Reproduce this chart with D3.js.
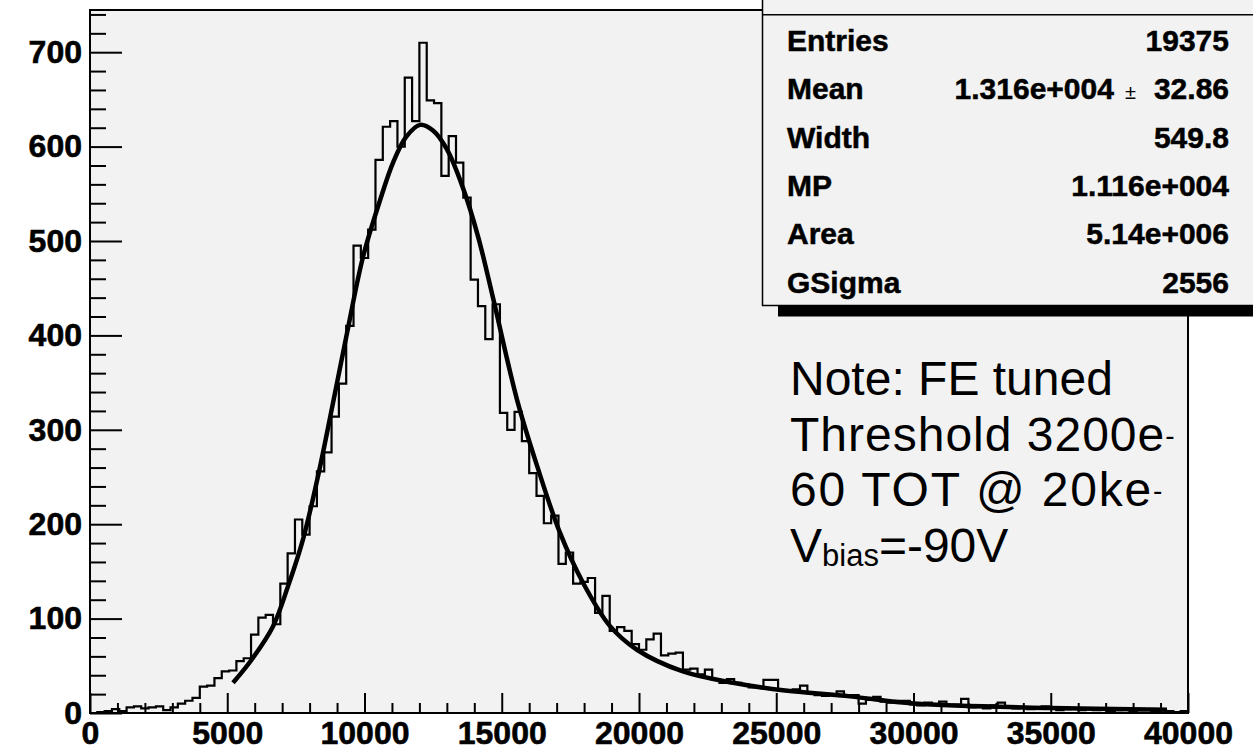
<!DOCTYPE html>
<meta charset="utf-8" />
<style>
  body { margin: 0; background: #fff; }
  text { font-family: "Liberation Sans", Arial, Helvetica, sans-serif; }
</style>
<body>
<div id="chart"></div>
<script src="https://d3js.org/d3.v7.min.js"></script>
<script>
// histogram contents: 150 bins between 0 and 40000
var binCounts = [
  0, 1, 2, 4, 2, 6, 7, 5, 6, 7,
  3, 6, 10, 13, 16, 28, 29, 37, 44, 45,
  55, 58, 83, 101, 104, 94, 137, 169, 205, 189,
  219, 256, 276, 314, 349, 410, 495, 482, 512, 586,
  621, 627, 600, 673, 627, 710, 649, 646, 569, 611,
  583, 546, 459, 431, 396, 433, 318, 300, 319, 288,
  254, 230, 201, 209, 158, 170, 137, 139, 143, 106,
  124, 87, 91, 87, 73, 67, 78, 84, 61, 63,
  64, 46, 47, 41, 46, 35, 32, 36, 32, 30,
  27, 27, 35, 35, 24, 24, 25, 29, 21, 19,
  18, 20, 23, 19, 19, 10, 14, 17, 12, 11,
  13, 13, 9, 8, 11, 9, 12, 8, 9, 15,
  6, 7, 5, 8, 11, 6, 5, 6, 4, 5,
  7, 6, 3, 4, 5, 3, 4, 3, 5, 2,
  3, 4, 2, 3, 4, 2, 3, 2, 1, 2
];
var xRange = [0, 40000];
var yMax = 744.7;

// fit curve (Landau x Gauss)
var fitX = [5210, 5900, 6670, 7210, 7760, 8270, 8630, 9360, 9945, 10565,
  11040, 11510, 12020, 12495, 13005, 13590, 14135, 14680, 15555, 16285,
  17120, 17960, 18945, 19925, 21600, 23425, 25245, 27690, 30020, 34975, 39235];
var fitY = [32, 57, 92, 134, 184, 246, 296, 402, 483, 543,
  583, 610, 623, 617, 597, 556, 505, 440, 332, 262,
  191, 138, 92, 67, 44, 32, 24, 17.6, 10, 5.3, 3.5];

var xMajor = [0, 5000, 10000, 15000, 20000, 25000, 30000, 35000, 40000];
var yMajor = [0, 100, 200, 300, 400, 500, 600, 700];

var statLabels = ["Entries", "Mean", "Width", "MP", "Area", "GSigma"];
var statValues = ["19375", "1.316e+004|32.86", "549.8", "1.116e+004", "5.14e+006", "2556"];

var noteLines = [
  { text: "Note: FE tuned" },
  { text: "Threshold 3200e", sup: "-" },
  { text: "60 TOT @ 20ke", sup: "-" },
  { pre: "V", sub: "bias", text: "=-90V" }
];

var width = 1253, height = 751;
var frame = { left: 90, right: 1188, top: 10, bottom: 713 };

var svg = d3.select("#chart").append("svg")
  .attr("width", width)
  .attr("height", height);

var x = d3.scaleLinear().domain(xRange).range([frame.left, frame.right]);
var y = d3.scaleLinear().domain([0, yMax]).range([frame.bottom, frame.top]);

// pad background
svg.append("rect")
  .attr("x", frame.left).attr("y", frame.top)
  .attr("width", frame.right - frame.left)
  .attr("height", frame.bottom - frame.top)
  .attr("fill", "#f2f2f2");

svg.append("defs").append("clipPath").attr("id", "clip")
  .append("rect")
  .attr("x", frame.left).attr("y", frame.top)
  .attr("width", frame.right - frame.left)
  .attr("height", frame.bottom - frame.top);

// histogram outline
var binW = (xRange[1] - xRange[0]) / binCounts.length;
var steps = binCounts.map(function(c, i) { return [xRange[0] + i * binW, c]; });
steps.push([xRange[1], binCounts[binCounts.length - 1]]);

svg.append("path")
  .datum(steps)
  .attr("clip-path", "url(#clip)")
  .attr("fill", "none")
  .attr("stroke", "#000")
  .attr("stroke-width", 2.2)
  .attr("d", d3.line()
    .curve(d3.curveStepAfter)
    .x(function(d) { return x(d[0]); })
    .y(function(d) { return y(d[1]); }));

// fit function
svg.append("path")
  .datum(d3.zip(fitX, fitY))
  .attr("clip-path", "url(#clip)")
  .attr("fill", "none")
  .attr("stroke", "#000")
  .attr("stroke-width", 4.5)
  .attr("d", d3.line()
    .curve(d3.curveCatmullRom.alpha(0.5))
    .x(function(d) { return x(d[0]); })
    .y(function(d) { return y(d[1]); }));

// axes (ROOT style: ticks point inside the frame)
var xMinor = d3.range(0, xRange[1] + 1, 1000).filter(function(v) { return v % 5000 !== 0; });
var yMinor = d3.range(0, yMax, 20).filter(function(v) { return v % 100 !== 0; });

function styleAxis(g) {
  g.select(".domain").remove();
  g.selectAll("line").attr("stroke-width", 2);
  g.attr("font-family", "'Liberation Sans', Arial, sans-serif")
    .attr("font-size", 32)
    .attr("font-weight", "bold");
  g.selectAll("text").attr("stroke", "#000").attr("stroke-width", 0.6);
}

svg.append("g")
  .attr("transform", "translate(0," + frame.bottom + ")")
  .call(d3.axisBottom(x).tickValues(xMinor).tickSizeInner(-10).tickSizeOuter(0).tickFormat(""))
  .call(styleAxis);
svg.append("g")
  .attr("transform", "translate(0," + frame.bottom + ")")
  .call(d3.axisBottom(x).tickValues(xMajor).tickSizeInner(-20).tickSizeOuter(0)
    .tickPadding(8).tickFormat(d3.format("d")))
  .call(styleAxis);

svg.append("g")
  .attr("transform", "translate(" + frame.left + ",0)")
  .call(d3.axisLeft(y).tickValues(yMinor).tickSizeInner(-16).tickSizeOuter(0).tickFormat(""))
  .call(styleAxis);
svg.append("g")
  .attr("transform", "translate(" + frame.left + ",0)")
  .call(d3.axisLeft(y).tickValues(yMajor).tickSizeInner(-32).tickSizeOuter(0)
    .tickPadding(8).tickFormat(d3.format("d")))
  .call(styleAxis);

// frame
svg.append("rect")
  .attr("x", frame.left).attr("y", frame.top)
  .attr("width", frame.right - frame.left)
  .attr("height", frame.bottom - frame.top)
  .attr("fill", "none")
  .attr("stroke", "#000")
  .attr("stroke-width", 2);

// stats box with shadow
var box = { left: 762.5, top: -20, bottom: 305.5, header: 14.7, right: 1290 };
svg.append("rect")
  .attr("x", 778).attr("y", box.bottom)
  .attr("width", box.right - 778).attr("height", 11)
  .attr("fill", "#000");
svg.append("rect")
  .attr("x", box.left).attr("y", box.top)
  .attr("width", box.right - box.left).attr("height", box.bottom - box.top)
  .attr("fill", "#f2f2f2")
  .attr("stroke", "#000")
  .attr("stroke-width", 1.5);
svg.append("line")
  .attr("x1", box.left).attr("x2", box.right)
  .attr("y1", box.header).attr("y2", box.header)
  .attr("stroke", "#000")
  .attr("stroke-width", 1.5);

var rowY = function(i) { return 50.7 + i * 48.4; };

svg.selectAll(".statLabel")
  .data(statLabels)
  .enter().append("text")
  .attr("class", "statLabel")
  .attr("x", 787)
  .attr("y", function(d, i) { return rowY(i); })
  .attr("font-size", 30)
  .attr("font-weight", "bold")
  .attr("stroke", "#000").attr("stroke-width", 0.5)
  .text(function(d) { return d; });

svg.selectAll(".statValue")
  .data(statValues)
  .enter().append("text")
  .attr("class", "statValue")
  .attr("x", 1229)
  .attr("y", function(d, i) { return rowY(i); })
  .attr("text-anchor", "end")
  .attr("font-size", 30)
  .attr("font-weight", "bold")
  .attr("stroke", "#000").attr("stroke-width", 0.5)
  .each(function(d) {
    var t = d3.select(this);
    var parts = d.split("|");
    if (parts.length === 1) { t.text(d); return; }
    t.append("tspan").text(parts[0]);
    t.append("tspan").attr("dx", 11).attr("font-size", 20).attr("font-weight", "normal")
      .attr("stroke-width", 0).text("\u00b1");
    t.append("tspan").attr("dx", 18).text(parts[1]);
  });

// note
var noteSpacing = [0, 1, 1.8, 0];
var note = svg.append("g").attr("font-size", 48);
noteLines.forEach(function(line, i) {
  var t = note.append("text")
    .attr("x", 790)
    .attr("y", 395 + i * 55.7)
    .style("letter-spacing", noteSpacing[i] + "px");
  if (line.pre) {
    t.append("tspan").text(line.pre);
    t.append("tspan").attr("font-size", 31).attr("dy", 4).text(line.sub);
    t.append("tspan").attr("dy", -4).text(line.text);
  } else {
    t.append("tspan").text(line.text);
  }
  if (line.sup) {
    t.append("tspan").attr("font-size", 28).attr("dy", -6).text(line.sup);
  }
});
</script>
</body>
